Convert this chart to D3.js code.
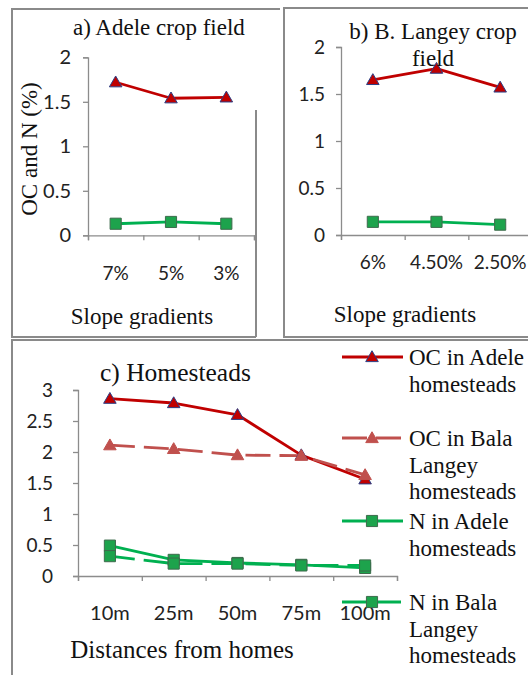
<!DOCTYPE html>
<html>
<head>
<meta charset="utf-8">
<script src="https://cdn.jsdelivr.net/npm/d3@7"></script>
<style>
  html, body { margin: 0; padding: 0; background: #fff; }
  svg { display: block; }
  text.serif { font-family: "Liberation Serif", "Times New Roman", Times, serif; fill: #111; }
</style>
</head>
<body>
<svg id="chart" width="528" height="675"></svg>
<script>
// Panel a: Adele crop field, by slope gradient
const slopesA = ["7%", "5%", "3%"];
const ocAdeleField = [1.72, 1.54, 1.55];
const nAdeleField = [0.13, 0.15, 0.13];

// Panel b: B. Langey crop field, by slope gradient
const slopesB = ["6%", "4.50%", "2.50%"];
const ocLangeyField = [1.65, 1.77, 1.57];
const nLangeyField = [0.14, 0.14, 0.11];

// Panel c: homesteads, by distance from homes
const distances = ["10m", "25m", "50m", "75m", "100m"];
const ocAdeleHome = [2.86, 2.79, 2.60, 1.95, 1.56];
const ocBalaHome = [2.11, 2.05, 1.95, 1.94, 1.63];
const nAdeleHome = [0.49, 0.26, 0.21, 0.18, 0.13];
const nBalaHome = [0.32, 0.20, 0.20, 0.17, 0.17];

const ticksAB = [0, 0.5, 1, 1.5, 2];
const ticksC = [0, 0.5, 1, 1.5, 2, 2.5, 3];

const legendLabels = [
  ["OC in Adele", "homesteads"],
  ["OC in Bala", "Langey", "homesteads"],
  ["N in Adele", "homesteads"],
  ["N in Bala", "Langey", "homesteads"]
];

const RED = "#C00000", RED2 = "#C0504D", GREEN = "#00B050";
const AXIS = "#8c8c8c", FRAME = "#8a8a8a";
const SERIF = "'Liberation Serif', 'Times New Roman', Times, serif";
const SANS = "Lato, 'Liberation Sans', sans-serif";
const svg = d3.select("#chart");

const triangle = d3.symbol().type(d3.symbolTriangle).size(68);
const square = d3.symbol().type(d3.symbolSquare).size(124);

function marker(g, kind, x, y, fill, stroke) {
  g.append("path")
    .attr("d", kind === "tri" ? triangle() : square())
    .attr("transform", `translate(${x},${y + (kind === "tri" ? 1 : 0)})`)
    .attr("fill", fill)
    .attr("stroke", stroke)
    .attr("stroke-width", 1);
}

function serifText(x, y, size, str, anchor) {
  return svg.append("text").attr("class", "serif")
    .attr("font-family", SERIF).attr("x", x).attr("y", y)
    .attr("font-size", size).attr("text-anchor", anchor || "start").text(str);
}

function drawPanel(opt) {
  const g = svg.append("g");
  const x = d3.scaleBand().domain(opt.cats).range([opt.x0, opt.x1]).padding(0);
  const y = d3.scaleLinear().domain([0, opt.ymax]).range([opt.y0, opt.y1]);
  const bw = x.bandwidth();
  const cx = c => x(c) + bw / 2;

  // value axis
  const ya = g.append("g").attr("transform", `translate(${opt.x0},0)`)
    .call(d3.axisLeft(y).tickValues(opt.ticks).tickSize(5).tickPadding(opt.tickPad)
      .tickFormat(d => d3.format("")(d)));
  ya.select(".domain").attr("stroke", AXIS).attr("stroke-width", 1.3);
  ya.selectAll(".tick line").attr("stroke", AXIS).attr("stroke-width", 1.3);
  ya.selectAll(".tick text").attr("font-size", opt.yFont)
    .attr("fill", "#222").attr("font-family", SANS);

  // category axis: ticks on band boundaries, labels at band centres
  const edges = d3.scaleLinear().domain([0, opt.cats.length]).range([opt.x0, opt.x0 + bw * opt.cats.length]);
  const xa = g.append("g").attr("transform", `translate(0,${opt.y0})`)
    .call(d3.axisBottom(edges).tickValues(d3.range(opt.cats.length + 1)).tickSize(5).tickFormat(""));
  xa.select(".domain").attr("stroke", AXIS).attr("stroke-width", 1.3);
  xa.selectAll(".tick line").attr("stroke", AXIS).attr("stroke-width", 1.3);
  const xl = g.append("g").attr("transform", `translate(0,${opt.y0})`)
    .call(d3.axisBottom(x).tickSize(0).tickPadding(opt.xLabPad));
  xl.select(".domain").remove();
  xl.selectAll(".tick text").attr("font-size", opt.xFont)
    .attr("fill", "#222").attr("font-family", SANS);

  const line = d3.line().x((d, i) => cx(opt.cats[i])).y(d => y(d));
  opt.series.forEach(s => {
    g.append("path").datum(s.values).attr("d", line)
      .attr("fill", "none").attr("stroke", s.color).attr("stroke-width", s.width || 2.8)
      .attr("stroke-dasharray", s.dash || null).attr("stroke-linejoin", "round");
  });
  opt.series.forEach(s => {
    s.values.forEach((v, i) => marker(g, s.kind, cx(opt.cats[i]), y(v), s.fill, s.stroke));
  });
  return g;
}

// frames
svg.append("path").attr("fill", "none").attr("stroke", FRAME).attr("stroke-width", 2)
  .attr("d", "M280,9 L12,9 L12,337 L256,337 M256,110 L256,337");
svg.append("path").attr("fill", "none").attr("stroke", FRAME).attr("stroke-width", 2)
  .attr("d", "M540,8 L284,8 L284,337 L540,337");
svg.append("path").attr("fill", "none").attr("stroke", FRAME).attr("stroke-width", 2)
  .attr("d", "M540,340 L12,340 L12,690");

// panel a
drawPanel({
  cats: slopesA, x0: 88, x1: 254, y0: 235.3, y1: 57.3, ymax: 2, ticks: ticksAB,
  yFont: 20, xFont: 19, tickPad: 12, xLabPad: 31,
  series: [
    { values: ocAdeleField, color: RED, kind: "tri", fill: RED, stroke: "#2b3f86" },
    { values: nAdeleField, color: GREEN, kind: "sq", fill: "#1DA34C", stroke: "#3d6b4c" }
  ]
});
serifText(73, 35, 23, "a) Adele crop field");
svg.append("text").attr("class", "serif").attr("font-family", SERIF).attr("font-size", 23)
  .attr("text-anchor", "middle").attr("transform", "translate(37,149) rotate(-90)")
  .text("OC and N (%)");
serifText(142, 324, 23, "Slope gradients", "middle");

// panel b
drawPanel({
  cats: slopesB, x0: 341, x1: 532, y0: 235, y1: 47, ymax: 2, ticks: ticksAB,
  yFont: 19, xFont: 19, tickPad: 11, xLabPad: 21,
  series: [
    { values: ocLangeyField, color: RED, kind: "tri", fill: RED, stroke: "#2b3f86" },
    { values: nLangeyField, color: GREEN, kind: "sq", fill: "#1DA34C", stroke: "#3d6b4c" }
  ]
});
serifText(433, 39, 23, "b) B. Langey crop", "middle");
serifText(433, 66, 23, "field", "middle");
serifText(405, 322, 23, "Slope gradients", "middle");

// panel c
const homeSeries = [
  { values: ocAdeleHome, color: RED, kind: "tri", fill: RED, stroke: "#2b3f86" },
  { values: ocBalaHome, color: RED2, kind: "tri", fill: RED2, stroke: RED2, dash: "25,9" },
  { values: nAdeleHome, color: GREEN, kind: "sq", fill: "#1DA34C", stroke: "#3d6b4c" },
  { values: nBalaHome, color: GREEN, kind: "sq", fill: "#1DA34C", stroke: "#3d6b4c", dash: "25,9" }
];
drawPanel({
  cats: distances, x0: 78, x1: 397, y0: 576, y1: 390, ymax: 3, ticks: ticksC,
  yFont: 19, xFont: 20, tickPad: 20, xLabPad: 30,
  series: homeSeries
});
serifText(100, 381, 25.5, "c) Homesteads");
serifText(182, 658, 25, "Distances from homes", "middle");

// legend
const legendY = [357, 438, 521, 602];
const leg = svg.append("g");
homeSeries.forEach((s, i) => {
  const ly = legendY[i];
  leg.append("line").attr("x1", 342).attr("x2", 403).attr("y1", ly).attr("y2", ly)
    .attr("stroke", s.color).attr("stroke-width", 2.8).attr("stroke-dasharray", s.dash || null);
  marker(leg, s.kind, 372, ly, s.fill, s.stroke);
  legendLabels[i].forEach((t, j) => {
    leg.append("text").attr("class", "serif").attr("font-family", SERIF)
      .attr("x", 409).attr("y", ly + 8 + j * 26.5)
      .attr("font-size", 23).text(t);
  });
});
</script>
</body>
</html>
